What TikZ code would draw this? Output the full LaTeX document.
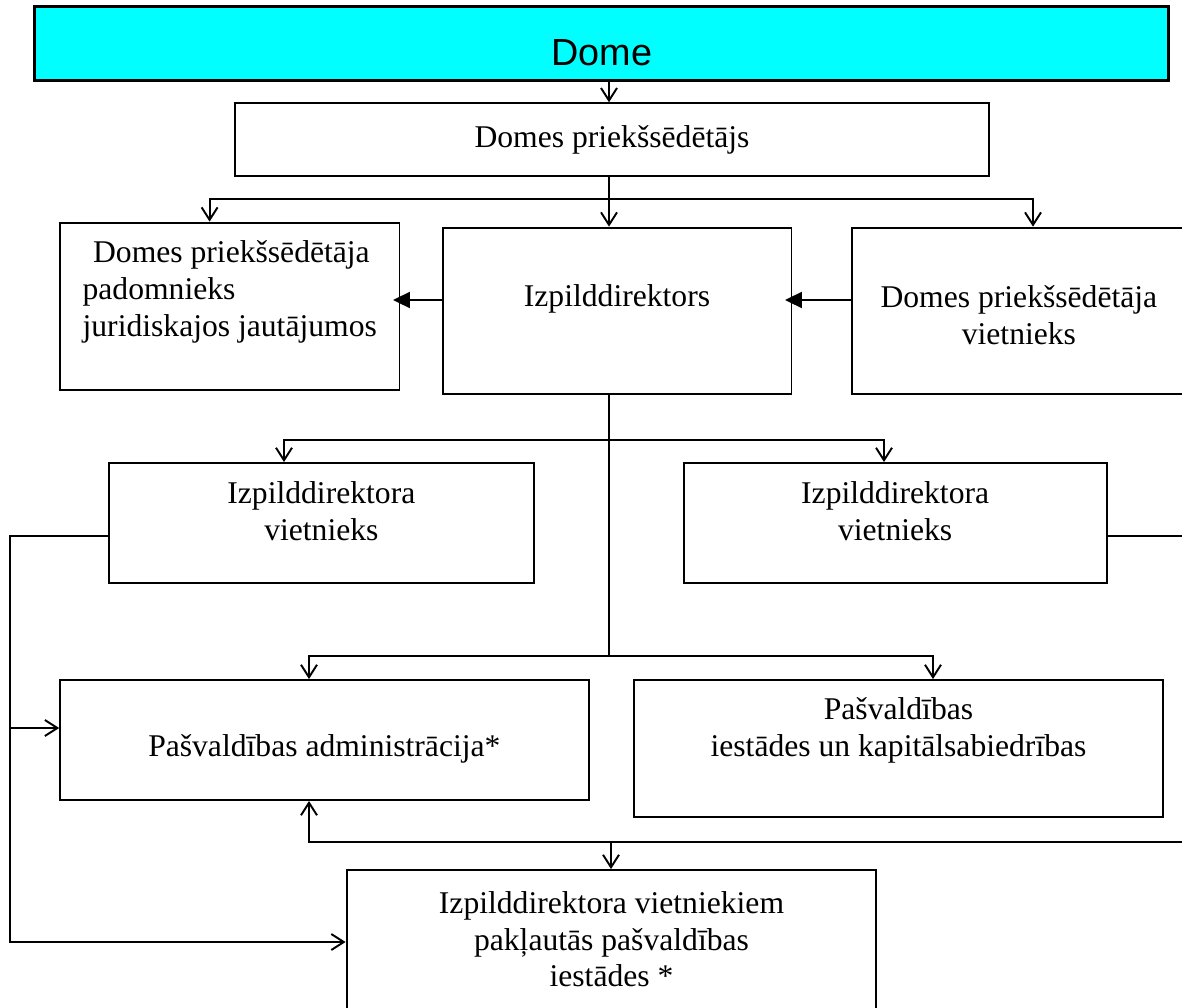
\documentclass[tikz,border=0pt]{standalone}
\usepackage{fontspec}
\setmainfont{Liberation Serif}
\newfontfamily\domefont{Liberation Sans}
\usepackage{xcolor}
\usetikzlibrary{arrows.meta}
\definecolor{domecyan}{RGB}{0,255,255}
\newcommand\lowpad[1]{\rule[-#1]{0pt}{#1}}
\newcommand\toppad[1]{\rule{0pt}{#1}}

\begin{document}
\begin{tikzpicture}[
    x=0.02cm, y=-0.02cm,
    box/.style={draw, line width=1.1pt, align=center, inner sep=0pt, font=\fontsize{18}{21}\selectfont},
    head/.style={draw, line width=1.6pt, fill=domecyan, inner sep=0pt, font=\domefont\fontsize{21.5}{24}\selectfont},
    wire/.style={line width=1.1pt},
    arrow/.style={wire, -{Straight Barb[length=2.5mm, width=3.2mm]}},
    twoway/.style={wire, {Straight Barb[length=2.5mm, width=3.2mm]}-{Straight Barb[length=2.5mm, width=3.2mm]}},
    push/.style={wire, -{Triangle[length=3.4mm, width=3.2mm]}, shorten >=-1.5mm},
]
    \useasboundingbox (0,0) rectangle (1182,1007);
    \clip (0,0) rectangle (1182,1007);

    \node[head, minimum width=22.69cm, minimum height=1.47cm] (dome) at (601.7,43.4) {\toppad{0.9cm}Dome};
    \node[box, minimum width=15.1cm, minimum height=1.45cm] (chair) at (612,139.5) {Domes priekšsēdētājs};
    \node[box, align=left, minimum width=6.79cm, minimum height=3.35cm] (adviser) at (229.75,306.35) {\hspace*{6pt}Domes priekšsēdētāja\\padomnieks\\juridiskajos jautājumos\lowpad{0.7cm}};
    \node[box, minimum width=6.98cm, minimum height=3.33cm] (exec) at (617,310.85) {Izpilddirektors\lowpad{0.63cm}};
    \node[box, minimum width=6.68cm, minimum height=3.33cm] (deputy) at (1018.9,310.85) {\toppad{0.6cm}Domes priekšsēdētāja\\vietnieks};
    \node[box, minimum width=8.49cm, minimum height=2.4cm] (vice1) at (321.35,523) {Izpilddirektora\\vietnieks\lowpad{0.49cm}};
    \node[box, minimum width=8.46cm, minimum height=2.4cm] (vice2) at (895.15,523) {Izpilddirektora\\vietnieks\lowpad{0.49cm}};
    \node[box, minimum width=10.57cm, minimum height=2.4cm] (admin) at (324.35,740) {\toppad{0.8cm}Pašvaldības administrācija*};
    \node[box, minimum width=10.58cm, minimum height=2.74cm] (inst) at (898.5,748.5) {Pašvaldības\\iestādes un kapitālsabiedrības\lowpad{0.87cm}};
    \node[box, minimum width=10.6cm, minimum height=3.2cm] (sub) at (611.5,950) {\toppad{0.5cm}Izpilddirektora vietniekiem\\pakļautās pašvaldības\\iestādes *\lowpad{0.5cm}};

    \coordinate (bus) at (609,199);
    \coordinate (busL) at (209.6,199);
    \coordinate (busR) at (1033,199);
    \coordinate (row) at (0,300);
    \coordinate (fork) at (609,440);
    \coordinate (forkL) at (284,440);
    \coordinate (forkR) at (884,440);
    \coordinate (hub) at (609,655.7);
    \coordinate (hubL) at (309,655.7);
    \coordinate (hubR) at (933,655.7);
    \coordinate (railT) at (10,536);
    \coordinate (railA) at (10,728);
    \coordinate (railB) at (10,942);
    \coordinate (edgeT) at (1200,536);
    \coordinate (edgeB) at (1200,842);
    \coordinate (loopL) at (309,842);
    \coordinate (drop) at (611,842);

    \draw[arrow] (dome.south -| bus) -- (chair.north -| bus);
    \draw[wire] (chair.south -| bus) -- (bus);
    \draw[twoway] (adviser.north -| busL) -- (busL) -- (busR) -- (deputy.north -| busR);
    \draw[arrow] (bus) -- (exec.north -| bus);
    \draw[push] (exec.west |- row) -- (adviser.east |- row);
    \draw[push] (deputy.west |- row) -- (exec.east |- row);
    \draw[wire] (exec.south -| fork) -- (hub);
    \draw[twoway] (vice1.north -| forkL) -- (forkL) -- (forkR) -- (vice2.north -| forkR);
    \draw[twoway] (admin.north -| hubL) -- (hubL) -- (hubR) -- (inst.north -| hubR);
    \draw[arrow] (vice1.west |- railT) -- (railT) -- (railB) -- (sub.west |- railB);
    \draw[arrow] (railA) -- (admin.west |- railA);
    \draw[arrow] (vice2.east |- edgeT) -- (edgeT) -- (edgeB) -- (loopL) -- (admin.south -| loopL);
    \draw[arrow] (drop) -- (sub.north -| drop);
\end{tikzpicture}
\end{document}
